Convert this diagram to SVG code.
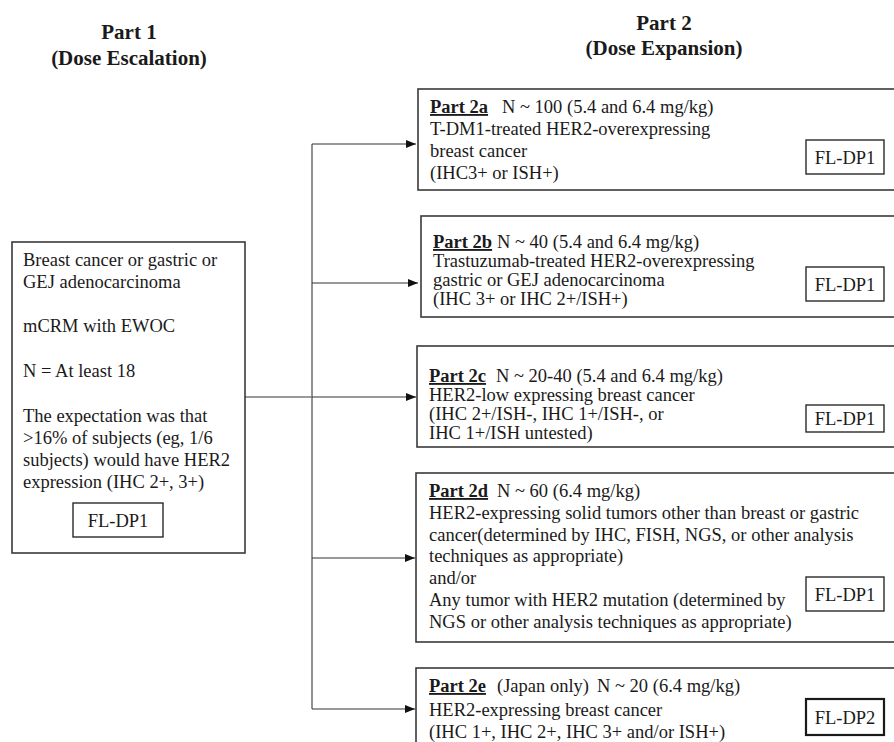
<svg xmlns="http://www.w3.org/2000/svg" width="894" height="742" viewBox="0 0 894 742">
<defs>
<style>
text{font-family:"Liberation Serif","Times New Roman",serif;font-size:18.5px;fill:#1a1a1a}
.h{font-weight:bold;font-size:21px;text-anchor:middle}
.b{font-weight:bold;text-decoration:underline}
.box{fill:#fff;stroke:#3a3a3a;stroke-width:1.6}
.tag{fill:#fff;stroke:#2a2a2a;stroke-width:1.4}
.tag2{fill:#fff;stroke:#1a1a1a;stroke-width:2.2}
.c{text-anchor:middle}
.ln{stroke:#333;stroke-width:1.1;fill:none}
.tr{stroke:#777;stroke-width:1.6;fill:none}
</style>
<marker id="ah" markerWidth="10" markerHeight="8" refX="10" refY="4" orient="auto" markerUnits="userSpaceOnUse">
<path d="M0,0 L10,4 L0,8 Z" fill="#111"/>
</marker>
</defs>
<rect width="894" height="742" fill="#fff"/>
<g id="headers">
<text class="h" x="129" y="39">Part 1</text>
<text class="h" x="129" y="65">(Dose Escalation)</text>
<text class="h" x="664" y="30">Part 2</text>
<text class="h" x="664" y="55">(Dose Expansion)</text>
</g>
<g id="connectors">
<line class="tr" x1="245" y1="397" x2="312" y2="397"/>
<line class="tr" x1="312" y1="144" x2="312" y2="709"/>
<line class="ln" x1="312" y1="144" x2="416" y2="144" marker-end="url(#ah)"/>
<line class="ln" x1="312" y1="283" x2="418" y2="283" marker-end="url(#ah)"/>
<line class="ln" x1="312" y1="397" x2="416" y2="397" marker-end="url(#ah)"/>
<line class="ln" x1="312" y1="558" x2="415" y2="558" marker-end="url(#ah)"/>
<line class="ln" x1="312" y1="709" x2="415" y2="709" marker-end="url(#ah)"/>
</g>
<g id="part1">
<rect class="box" x="12" y="242" width="233" height="311"/>
<text x="23" y="266">Breast cancer or gastric or</text>
<text x="23" y="288">GEJ adenocarcinoma</text>
<text x="23" y="332">mCRM with EWOC</text>
<text x="23" y="377">N = At least 18</text>
<text x="23" y="422">The expectation was that</text>
<text x="23" y="444">&gt;16% of subjects (eg, 1/6</text>
<text x="23" y="466">subjects) would have HER2</text>
<text x="23" y="488">expression (IHC 2+, 3+)</text>
<rect class="tag" x="73" y="503" width="90" height="34"/>
<text class="c" x="118" y="527">FL-DP1</text>
</g>
<g id="part2a">
<rect class="box" x="418" y="89" width="490" height="101"/>
<text x="430" y="113"><tspan class="b">Part 2a</tspan><tspan x="502">N ~ 100 (5.4 and 6.4 mg/kg)</tspan></text>
<text x="430" y="135">T-DM1-treated HER2-overexpressing</text>
<text x="430" y="157">breast cancer</text>
<text x="430" y="179">(IHC3+ or ISH+)</text>
<rect class="tag" x="806" y="140" width="78" height="34"/>
<text class="c" x="845" y="164">FL-DP1</text>
</g>
<g id="part2b">
<rect class="box" x="421" y="216" width="490" height="101"/>
<text x="433" y="248"><tspan class="b">Part 2b</tspan><tspan x="497">N ~ 40 (5.4 and 6.4 mg/kg)</tspan></text>
<text x="433" y="267">Trastuzumab-treated HER2-overexpressing</text>
<text x="433" y="286">gastric or GEJ adenocarcinoma</text>
<text x="433" y="305">(IHC 3+ or IHC 2+/ISH+)</text>
<rect class="tag" x="806" y="267" width="78" height="34"/>
<text class="c" x="845" y="291">FL-DP1</text>
</g>
<g id="part2c">
<rect class="box" x="417" y="346" width="490" height="101"/>
<text x="429" y="382"><tspan class="b">Part 2c</tspan><tspan x="496">N ~ 20-40 (5.4 and 6.4 mg/kg)</tspan></text>
<text x="429" y="401">HER2-low expressing breast cancer</text>
<text x="429" y="420">(IHC 2+/ISH-, IHC 1+/ISH-, or</text>
<text x="429" y="439">IHC 1+/ISH untested)</text>
<rect class="tag" x="806" y="405" width="78" height="27"/>
<text class="c" x="845" y="425">FL-DP1</text>
</g>
<g id="part2d">
<rect class="box" x="416" y="473" width="490" height="169"/>
<text x="429" y="497"><tspan class="b">Part 2d</tspan><tspan x="497">N ~ 60 (6.4 mg/kg)</tspan></text>
<text x="429" y="519">HER2-expressing solid tumors other than breast or gastric</text>
<text x="429" y="541">cancer(determined by IHC, FISH, NGS, or other analysis</text>
<text x="429" y="562">techniques as appropriate)</text>
<text x="429" y="584">and/or</text>
<text x="429" y="606">Any tumor with HER2 mutation (determined by</text>
<text x="429" y="628">NGS or other analysis techniques as appropriate)</text>
<rect class="tag" x="806" y="577" width="78" height="34"/>
<text class="c" x="845" y="601">FL-DP1</text>
</g>
<g id="part2e">
<rect class="box" x="416" y="668" width="490" height="100"/>
<text x="429" y="692"><tspan class="b">Part 2e</tspan><tspan x="497">(Japan only)</tspan><tspan x="597">N ~ 20 (6.4 mg/kg)</tspan></text>
<text x="429" y="716">HER2-expressing breast cancer</text>
<text x="429" y="738">(IHC 1+, IHC 2+, IHC 3+ and/or ISH+)</text>
<rect class="tag2" x="806" y="699" width="78" height="36"/>
<text class="c" x="845" y="724">FL-DP2</text>
</g>
</svg>
